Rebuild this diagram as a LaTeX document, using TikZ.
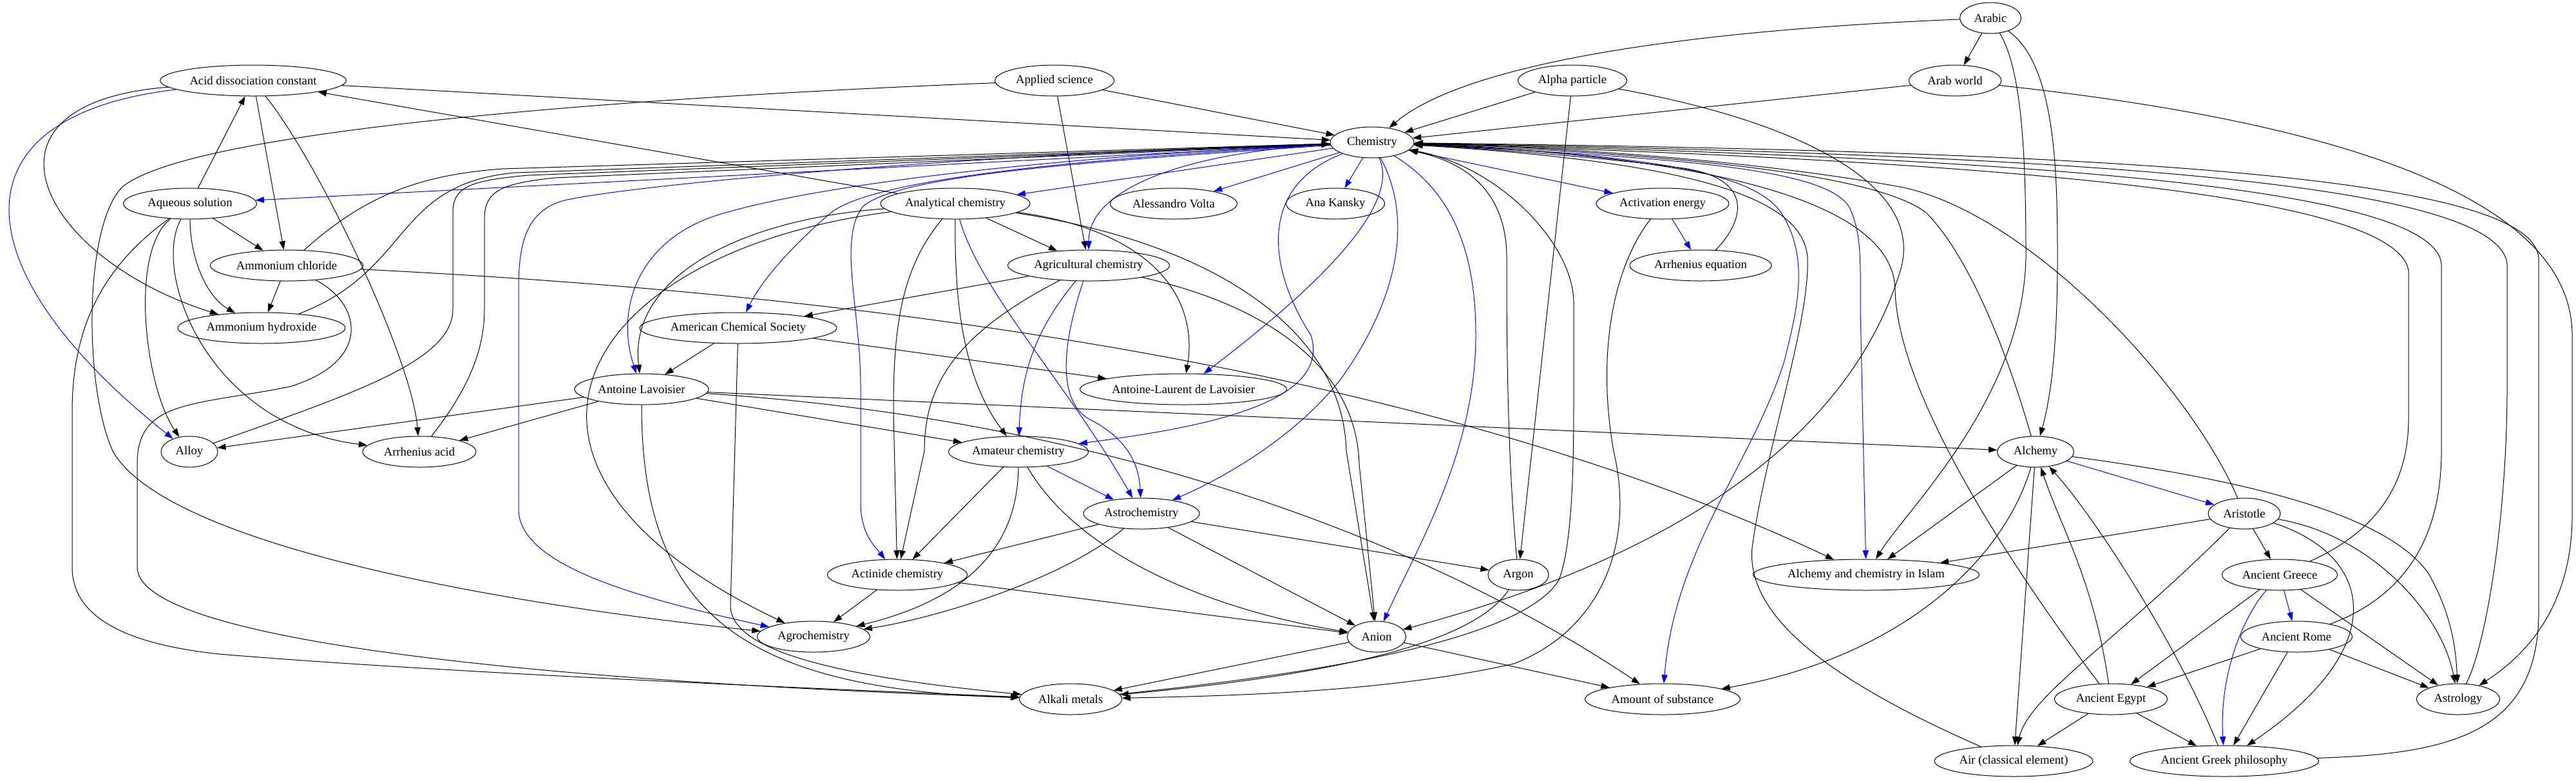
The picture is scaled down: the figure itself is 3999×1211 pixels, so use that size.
\documentclass[tikz,border=0pt]{standalone}
\usepackage{fontspec}
\setmainfont{Liberation Serif}
\usetikzlibrary{shapes.geometric,arrows.meta}
\begin{document}
\begin{tikzpicture}[x=0.75pt, y=-0.75pt, line join=round, line cap=round,
  nd/.style={ellipse, draw, line width=0.75pt, inner sep=0pt, minimum height=36pt, font=\fontsize{14}{16}\selectfont},
  ar/.style={draw, line width=0.75pt, -{Triangle[length=10pt,width=7pt]}},
  bl/.style={ar, blue}]
    \useasboundingbox (0,0) rectangle (3999,1211);
    \fill[white] (0,0) rectangle (3999,1211);
    % nodes: name/x/y/width/label
    \foreach \nn/\xx/\yy/\ww/\lbl in {arabic/3090/28/95/Arabic, acid/393/125/289/Acid dissociation constant,
      applied/1637/125/185/Applied science, alpha/2441/125/169/Alpha particle, arabworld/3035/125/143/Arab world,
      chem/2130/221/130/Chemistry, aqueous/295/316/207/Aqueous solution, analytical/1483/316/232/Analytical chemistry,
      volta/1822/316/197/Alessandro Volta, kansky/2073/316/153/Ana Kansky, activation/2581/316/206/Activation energy,
      ammchl/445/412/237/Ammonium chloride, agricult/1690/412/251/Agricultural chemistry, arrheq/2640/412/220/Arrhenius equation,
      ammhyd/406/509/260/Ammonium hydroxide, acs/1146/509/306/American Chemical Society, lavoisier/996/604/208/Antoine Lavoisier,
      allavoisier/1837/604/321/Antoine-Laurent de Lavoisier, alloy/294/701/88/Alloy, arrhacid/651/701/176/Arrhenius acid,
      amateur/1581/701/217/Amateur chemistry, alchemy/3160/701/119/Alchemy, astrochem/1772/797/180/Astrochemistry,
      aristotle/3484/797/112/Aristotle, actinide/1393/892/217/Actinide chemistry, argon/2357/892/94/Argon,
      islam/2897/892/351/Alchemy and chemistry in Islam, greece/3539/892/179/Ancient Greece, agrochem/1263/988/175/Agrochemistry,
      anion/2137/988/91/Anion, rome/3565/988/173/Ancient Rome, alkali/1662/1085/159/Alkali metals,
      amount/2581/1085/241/Amount of substance, egypt/3277/1085/175/Ancient Egypt, astrology/3816/1085/129/Astrology,
      air/3126/1181/246/Air (classical element), philosophy/3453/1181/293/Ancient Greek philosophy}
      \node[nd, minimum width=\ww*0.75pt] (\nn) at (\xx,\yy) {\lbl};
    % top row
    \draw[ar] (arabic) -- (arabworld);
    \draw[ar] (arabic) .. controls (2550,50) and (2260,110) .. (chem);
    \draw[ar] (arabic) .. controls (3190,100) and (3194,260) .. (3194,400) .. controls (3194,560) and (3180,630) .. (alchemy);
    \draw[ar] (arabic) .. controls (3140,110) and (3145,250) .. (3145,400) .. controls (3140,620) and (2960,790) .. (islam);
    \draw[ar] (arabworld) -- (chem);
    \draw[ar] (arabworld) .. controls (3450,170) and (3993,260) .. (3993,520) -- (3993,800) .. controls (3993,960) and (3900,1030) .. (astrology);
    \draw[ar] (acid) -- (chem);
    \draw[bl] (acid) .. controls (-80,180) and (-60,420) .. (alloy);
    \draw[ar] (acid) .. controls (-60,160) and (60,400) .. (ammhyd);
    \draw[ar] (acid) -- (ammchl);
    \draw[ar] (acid) .. controls (500,260) and (640,560) .. (arrhacid);
    \draw[ar] (applied) -- (chem);
    \draw[ar] (applied) -- (agricult);
    \draw[ar] (applied) .. controls (1000,150) and (300,200) .. (190,290) .. controls (130,350) and (130,600) .. (175,700) .. controls (260,850) and (800,940) .. (agrochem);
    \draw[ar] (alpha) -- (chem);
    \draw[ar] (alpha) -- (argon);
    \draw[ar] (alpha) .. controls (2800,190) and (2990,290) .. (2950,420) .. controls (2880,650) and (2650,850) .. (anion);
    % out of Chemistry
    \draw[bl] (chem) -- (aqueous);
    \draw[bl] (chem) -- (analytical);
    \draw[bl] (chem) -- (volta);
    \draw[bl] (chem) -- (kansky);
    \draw[bl] (chem) -- (activation);
    \draw[bl] (chem) .. controls (1850,235) and (1690,290) .. (agricult);
    \draw[bl] (chem) .. controls (1700,245) and (1360,275) .. (1290,330) .. controls (1220,390) and (1180,440) .. (acs);
    \draw[bl] (chem) .. controls (1600,245) and (1250,290) .. (1110,335) .. controls (990,375) and (955,480) .. (lavoisier);
    \draw[bl] (chem) .. controls (1500,240) and (1000,285) .. (880,310) .. controls (815,325) and (805,380) .. (805,450) -- (805,790) .. controls (805,880) and (1000,930) .. (agrochem);
    \draw[bl] (chem) .. controls (1700,250) and (1400,270) .. (1340,320) .. controls (1300,370) and (1336,480) .. (1336,600) -- (1336,780) .. controls (1336,830) and (1360,850) .. (actinide);
    \draw[bl] (chem) .. controls (2180,330) and (2000,480) .. (allavoisier);
    \draw[bl] (chem) .. controls (1950,290) and (1970,420) .. (2035,520) .. controls (2070,630) and (1850,665) .. (amateur);
    \draw[bl] (chem) .. controls (2200,350) and (2160,480) .. (2080,590) .. controls (2000,690) and (1880,750) .. (astrochem);
    \draw[bl] (chem) .. controls (2260,300) and (2291,400) .. (2291,520) .. controls (2291,700) and (2200,850) .. (anion);
    \draw[bl] (chem) .. controls (2550,240) and (2720,265) .. (2765,330) .. controls (2810,400) and (2790,480) .. (2770,560) .. controls (2720,720) and (2600,850) .. (amount);
    \draw[bl] (chem) .. controls (2600,245) and (2830,260) .. (2870,320) .. controls (2890,360) and (2888,400) .. (2888,480) -- (islam);
    % left side
    \draw[ar] (ammchl) .. controls (560,310) and (640,272) .. (780,262) -- (chem);
    \draw[ar] (ammhyd) .. controls (640,420) and (610,285) .. (800,268) -- (chem);
    \draw[ar] (alloy) .. controls (550,610) and (703,560) .. (703,480) -- (703,330) .. controls (703,290) and (730,280) .. (820,272) -- (chem);
    \draw[ar] (arrhacid) .. controls (730,600) and (752,540) .. (752,480) -- (752,340) .. controls (752,295) and (780,285) .. (860,276) -- (chem);
    \draw[ar] (aqueous) -- (acid);
    \draw[ar] (aqueous) -- (ammchl);
    \draw[ar] (aqueous) .. controls (295,400) and (320,460) .. (ammhyd);
    \draw[ar] (aqueous) .. controls (200,390) and (225,600) .. (alloy);
    \draw[ar] (aqueous) .. controls (235,420) and (320,660) .. (arrhacid);
    \draw[ar] (aqueous) .. controls (150,420) and (112,520) .. (112,640) -- (112,880) .. controls (112,960) and (200,1000) .. (340,1015) .. controls (700,1045) and (1300,1070) .. (alkali);
    \draw[ar] (ammchl) -- (ammhyd);
    \draw[ar] (ammchl) .. controls (560,470) and (580,560) .. (450,600) .. controls (300,630) and (213,620) .. (213,720) -- (213,880) .. controls (213,1000) and (900,1060) .. (alkali);
    \draw[ar] (ammchl) .. controls (1200,450) and (2150,540) .. (islam);
    % middle
    \draw[ar] (analytical) -- (acid);
    \draw[ar] (analytical) -- (agricult);
    \draw[ar] (analytical) .. controls (1150,340) and (975,430) .. (lavoisier);
    \draw[ar] (analytical) .. controls (900,390) and (700,720) .. (agrochem);
    \draw[ar] (analytical) .. controls (1395,420) and (1387,520) .. (1387,640) -- (actinide);
    \draw[ar] (analytical) .. controls (1482,450) and (1490,580) .. (amateur);
    \draw[bl] (analytical) .. controls (1520,450) and (1660,600) .. (astrochem);
    \draw[ar] (analytical) .. controls (1800,360) and (1860,470) .. (allavoisier);
    \draw[ar] (analytical) .. controls (1900,380) and (2085,520) .. (2090,700) -- (anion);
    \draw[ar] (agricult) -- (acs);
    \draw[ar] (agricult) .. controls (1480,520) and (1435,600) .. (1435,700) -- (actinide);
    \draw[bl] (agricult) .. controls (1600,520) and (1585,590) .. (amateur);
    \draw[bl] (agricult) .. controls (1650,530) and (1640,620) .. (1690,650) .. controls (1750,680) and (1768,720) .. (astrochem);
    \draw[ar] (agricult) .. controls (1950,470) and (2105,560) .. (2110,720) -- (anion);
    \draw[ar] (acs) -- (lavoisier);
    \draw[ar] (acs) -- (allavoisier);
    \draw[ar] (acs) -- (1134,940) .. controls (1134,1010) and (1300,1050) .. (alkali);
    \draw[ar] (lavoisier) -- (alloy);
    \draw[ar] (lavoisier) -- (arrhacid);
    \draw[ar] (lavoisier) -- (amateur);
    \draw[ar] (lavoisier) -- (alchemy);
    \draw[ar] (lavoisier) .. controls (1700,650) and (2200,830) .. (amount);
    \draw[ar] (lavoisier) .. controls (996,950) and (1150,1070) .. (alkali);
    \draw[bl] (amateur) -- (astrochem);
    \draw[ar] (amateur) -- (actinide);
    \draw[ar] (amateur) .. controls (1580,850) and (1500,930) .. (agrochem);
    \draw[ar] (amateur) .. controls (1680,870) and (1900,950) .. (anion);
    \draw[ar] (astrochem) -- (actinide);
    \draw[ar] (astrochem) .. controls (1650,900) and (1450,960) .. (agrochem);
    \draw[ar] (astrochem) -- (anion);
    \draw[ar] (astrochem) -- (argon);
    \draw[ar] (actinide) -- (agrochem);
    \draw[ar] (actinide) -- (anion);
    \draw[ar] (argon) .. controls (2339,700) and (2339,500) .. (2339,400) .. controls (2339,310) and (2290,255) .. (chem);
    \draw[ar] (argon) .. controls (2300,980) and (2150,1040) .. (alkali);
    \draw[ar] (anion) -- (alkali);
    \draw[ar] (anion) -- (amount);
    \draw[ar] (alkali) .. controls (2000,1050) and (2360,1000) .. (2420,900) .. controls (2443,840) and (2443,700) .. (2443,600) -- (2443,470) .. controls (2443,380) and (2330,260) .. (chem);
    \draw[bl] (activation) -- (arrheq);
    \draw[ar] (activation) .. controls (2500,420) and (2480,560) .. (2505,700) .. controls (2540,850) and (2480,980) .. (2350,1030) .. controls (2150,1075) and (1900,1080) .. (alkali);
    \draw[ar] (arrheq) .. controls (2710,340) and (2720,280) .. (2620,262) .. controls (2500,245) and (2300,230) .. (chem);
    % right side
    \draw[ar] (alchemy) .. controls (3120,560) and (3060,400) .. (2990,330) .. controls (2900,260) and (2500,235) .. (chem);
    \draw[bl] (alchemy) -- (aristotle);
    \draw[ar] (alchemy) -- (islam);
    \draw[ar] (alchemy) -- (air);
    \draw[ar] (alchemy) .. controls (3450,740) and (3700,790) .. (3770,890) .. controls (3810,960) and (3813,1020) .. (astrology);
    \draw[ar] (alchemy) .. controls (3110,870) and (2950,1020) .. (amount);
    \draw[ar] (aristotle) .. controls (3400,600) and (3150,330) .. (2950,290) .. controls (2700,245) and (2400,228) .. (chem);
    \draw[ar] (aristotle) -- (islam);
    \draw[ar] (aristotle) -- (greece);
    \draw[ar] (aristotle) .. controls (3680,830) and (3790,950) .. (astrology);
    \draw[ar] (aristotle) .. controls (3680,860) and (3720,1000) .. (philosophy);
    \draw[ar] (aristotle) .. controls (3280,1000) and (3150,1080) .. (air);
    \draw[ar] (greece) .. controls (3700,820) and (3739,740) .. (3739,650) -- (3739,420) .. controls (3720,300) and (3100,250) .. (chem);
    \draw[bl] (greece) -- (rome);
    \draw[bl] (greece) .. controls (3480,960) and (3445,1050) .. (philosophy);
    \draw[ar] (greece) -- (egypt);
    \draw[ar] (greece) -- (astrology);
    \draw[ar] (rome) .. controls (3720,930) and (3790,850) .. (3790,700) -- (3790,410) .. controls (3780,290) and (3150,245) .. (chem);
    \draw[ar] (rome) -- (egypt);
    \draw[ar] (rome) -- (philosophy);
    \draw[ar] (rome) -- (astrology);
    \draw[ar] (egypt) .. controls (3100,850) and (2945,600) .. (2942,450) .. controls (2940,300) and (2600,240) .. (chem);
    \draw[ar] (egypt) .. controls (3250,900) and (3200,820) .. (alchemy);
    \draw[ar] (egypt) -- (air);
    \draw[ar] (egypt) -- (philosophy);
    \draw[ar] (astrology) .. controls (3860,1000) and (3892,800) .. (3892,600) -- (3892,410) .. controls (3880,280) and (3200,240) .. (chem);
    \draw[ar] (philosophy) .. controls (3800,1170) and (3941,1140) .. (3941,950) -- (3941,400) .. controls (3930,270) and (3250,235) .. (chem);
    \draw[ar] (philosophy) .. controls (3380,1000) and (3250,800) .. (alchemy);
    \draw[ar] (air) .. controls (2850,1060) and (2710,960) .. (2720,850) .. controls (2740,700) and (2810,500) .. (2806,400) .. controls (2800,300) and (2600,250) .. (chem);
\end{tikzpicture}
\end{document}
